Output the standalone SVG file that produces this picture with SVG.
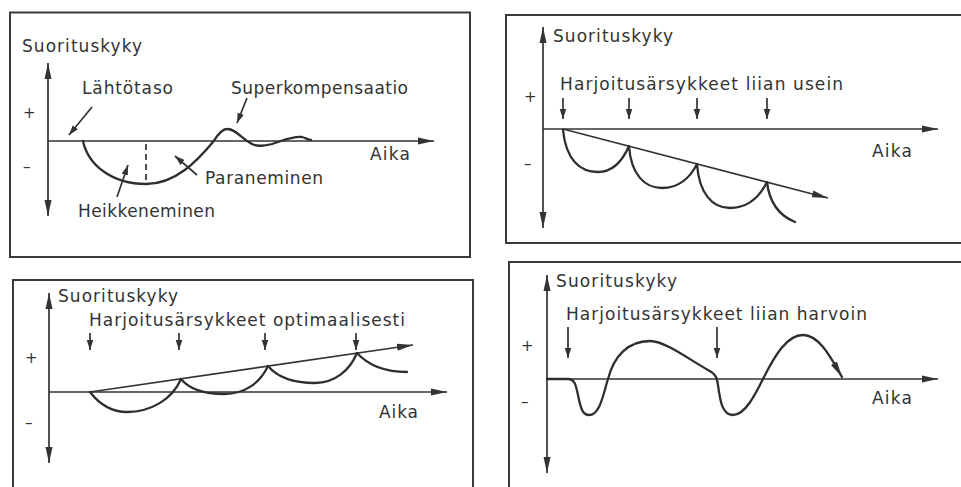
<svg xmlns="http://www.w3.org/2000/svg" width="961" height="487" viewBox="0 0 961 487">
<style>
.frame{fill:none;stroke:#3a3a3a;stroke-width:2}
.axis{fill:none;stroke:#333;stroke-width:1.7}
.curve{fill:none;stroke:#2e2e2e;stroke-width:2.3;stroke-linejoin:round;stroke-linecap:round}
.thin{fill:none;stroke:#333;stroke-width:1.7}
.dash{fill:none;stroke:#333;stroke-width:1.7;stroke-dasharray:6,4}
text{font-family:"DejaVu Sans","Liberation Sans",sans-serif;font-size:17px;fill:#333}
.sign{font-size:15px}
</style>
<defs>
<marker id="ah" markerUnits="userSpaceOnUse" markerWidth="17" markerHeight="9" refX="16" refY="4.5" orient="auto">
<path d="M0,1 L16,4.5 L0,8 z" fill="#333"/>
</marker>
<marker id="sa" markerUnits="userSpaceOnUse" markerWidth="11" markerHeight="8" refX="10" refY="4" orient="auto">
<path d="M0,0.7 L10,4 L0,7.3 z" fill="#333"/>
</marker>
</defs>
<rect width="961" height="487" fill="#fff"/>

<g id="panel1">
<rect class="frame" x="10" y="12.5" width="460" height="244.5"/>
<text x="22" y="52" textLength="120" lengthAdjust="spacing">Suorituskyky</text>
<text class="sign" x="23" y="118">+</text>
<text class="sign" x="23" y="172">–</text>
<text x="82" y="94" textLength="91" lengthAdjust="spacing">Lähtötaso</text>
<text x="231" y="94" textLength="177" lengthAdjust="spacing">Superkompensaatio</text>
<text x="370" y="160" textLength="40" lengthAdjust="spacing">Aika</text>
<text x="205" y="184" textLength="118" lengthAdjust="spacing">Paraneminen</text>
<text x="78" y="217" textLength="137" lengthAdjust="spacing">Heikkeneminen</text>
</g>

<g id="panel2">
<rect class="frame" x="506" y="15" width="460" height="228"/>
<text x="553" y="42" textLength="120" lengthAdjust="spacing">Suorituskyky</text>
<text class="sign" x="524" y="102">+</text>
<text class="sign" x="524" y="169">–</text>
<text x="560" y="90" textLength="283" lengthAdjust="spacing">Harjoitusärsykkeet liian usein</text>
<text x="872" y="157" textLength="40" lengthAdjust="spacing">Aika</text>
</g>

<g id="panel3">
<rect class="frame" x="13" y="280" width="460" height="215"/>
<text x="58" y="302" textLength="120" lengthAdjust="spacing">Suorituskyky</text>
<text class="sign" x="25" y="363">+</text>
<text class="sign" x="25" y="428">–</text>
<text x="89" y="326" textLength="316" lengthAdjust="spacing">Harjoitusärsykkeet optimaalisesti</text>
<text x="379" y="418" textLength="39" lengthAdjust="spacing">Aika</text>
</g>

<g id="panel4">
<rect class="frame" x="509" y="262" width="460" height="235"/>
<text x="556" y="287" textLength="121" lengthAdjust="spacing">Suorituskyky</text>
<text class="sign" x="521" y="351">+</text>
<text class="sign" x="521" y="407">–</text>
<text x="566" y="320" textLength="301" lengthAdjust="spacing">Harjoitusärsykkeet liian harvoin</text>
<text x="872" y="404" textLength="40" lengthAdjust="spacing">Aika</text>
</g>

<g id="connectors">
<!-- panel 1 -->
<line class="axis" x1="48" y1="141" x2="48" y2="63" marker-end="url(#ah)"/>
<line class="axis" x1="48" y1="141" x2="48" y2="216" marker-end="url(#ah)"/>
<line class="axis" x1="48" y1="141" x2="434" y2="141" marker-end="url(#ah)"/>
<path class="curve" d="M83,141 C88,165 112,184 146,184 C176,184 198,160 213,142 C218,134 222,129 227,129 C236,129 242,139 252,144 C258,147 264,146 272,144 C282,141 292,136 302,137 C306,138 308,140 311,140"/>
<line class="dash" x1="146" y1="144" x2="146" y2="181"/>
<line class="thin" x1="92" y1="107" x2="69" y2="135" marker-end="url(#sa)"/>
<line class="thin" x1="247" y1="98" x2="237" y2="123" marker-end="url(#sa)"/>
<line class="thin" x1="197" y1="175" x2="175" y2="156" marker-end="url(#sa)"/>
<line class="thin" x1="117" y1="197" x2="128" y2="165" marker-end="url(#sa)"/>
<!-- panel 2 -->
<line class="axis" x1="543" y1="129" x2="543" y2="27" marker-end="url(#ah)"/>
<line class="axis" x1="543" y1="129" x2="543" y2="228" marker-end="url(#ah)"/>
<line class="axis" x1="543" y1="129" x2="938" y2="129" marker-end="url(#ah)"/>
<line class="thin" x1="563" y1="129" x2="828" y2="198" marker-end="url(#ah)"/>
<path class="curve" d="M563,130 C566,160 580,172 598,172 C612,172 622,162 629,146 C631,175 645,188 662,188 C678,188 690,178 697,164 C699,193 712,208 730,208 C748,208 760,196 767,182 C769,200 778,215 795,222"/>
<line class="thin" x1="563" y1="98" x2="563" y2="119" marker-end="url(#sa)"/>
<line class="thin" x1="629" y1="98" x2="629" y2="119" marker-end="url(#sa)"/>
<line class="thin" x1="697" y1="98" x2="697" y2="119" marker-end="url(#sa)"/>
<line class="thin" x1="767" y1="98" x2="767" y2="119" marker-end="url(#sa)"/>
<!-- panel 3 -->
<line class="axis" x1="49" y1="392" x2="49" y2="293" marker-end="url(#ah)"/>
<line class="axis" x1="49" y1="392" x2="49" y2="463" marker-end="url(#ah)"/>
<line class="axis" x1="49" y1="392" x2="447" y2="392" marker-end="url(#ah)"/>
<line class="thin" x1="90" y1="392" x2="413" y2="345" marker-end="url(#ah)"/>
<path class="curve" d="M90,392 C100,405 112,412 127,412 C150,412 172,400 181,379 C190,390 205,394 224,394 C245,394 260,383 268,366 C278,378 295,383 315,383 C335,383 350,370 357,353 C368,365 385,372 407,372"/>
<line class="thin" x1="90" y1="333" x2="90" y2="350" marker-end="url(#sa)"/>
<line class="thin" x1="179" y1="333" x2="179" y2="350" marker-end="url(#sa)"/>
<line class="thin" x1="265" y1="333" x2="265" y2="350" marker-end="url(#sa)"/>
<line class="thin" x1="356" y1="333" x2="356" y2="350" marker-end="url(#sa)"/>
<!-- panel 4 -->
<line class="axis" x1="547" y1="379" x2="547" y2="275" marker-end="url(#ah)"/>
<line class="axis" x1="547" y1="379" x2="547" y2="473" marker-end="url(#ah)"/>
<line class="axis" x1="547" y1="379" x2="938" y2="379" marker-end="url(#ah)"/>
<path class="curve" d="M547,379 L568,379 C575,379 576,386 578,395 C581,410 583,415 589,415 C600,415 603,395 608,379 C614,356 628,341 650,341 C665,341 690,360 708,370 C716,374 717,378 718,385 C720,400 722,415 733,415 C745,415 755,395 763,379 C775,355 787,335 803,335 C820,335 832,360 842,377" marker-end="url(#ah)"/>
<line class="thin" x1="568" y1="327" x2="568" y2="358" marker-end="url(#sa)"/>
<line class="thin" x1="717" y1="327" x2="717" y2="358" marker-end="url(#sa)"/>
</g>
</svg>
